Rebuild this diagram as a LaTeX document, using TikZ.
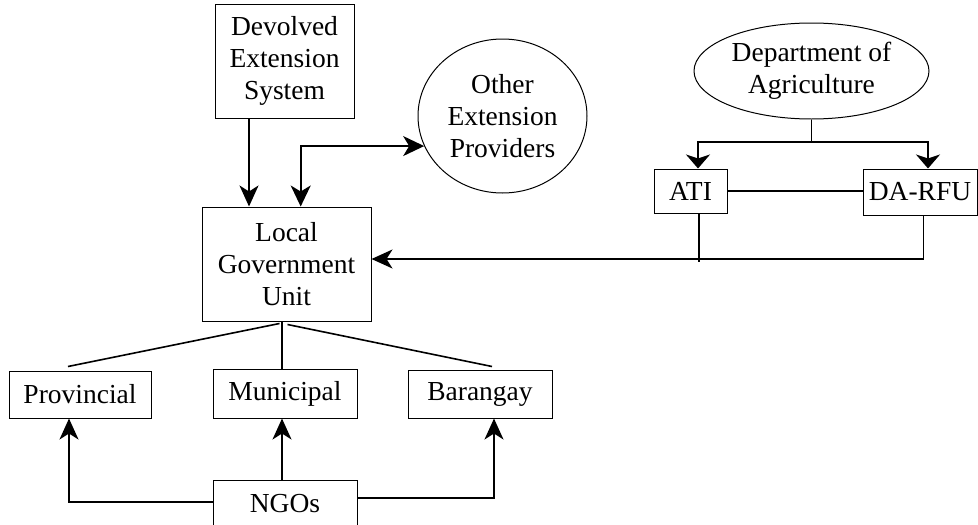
\documentclass[tikz,border=0pt]{standalone}
\usepackage{fontspec}
\setmainfont{Liberation Serif}
\newfontfamily\diagfont{Liberation Serif}
\usetikzlibrary{arrows.meta,shapes.geometric}
\begin{document}
\begin{tikzpicture}[x=1pt,y=-1pt,
  every node/.style={font=\diagfont\fontsize{27.5pt}{31.7pt}\selectfont, inner sep=0pt, align=center},
  box/.style={draw, line width=1pt, rectangle},
  oval/.style={draw, line width=1pt, ellipse},
  conn/.style={line width=1.6pt},
  arrA/.style={conn, -{Stealth[length=21pt,width=19pt,inset=6pt]}},
  arrAA/.style={conn, {Stealth[length=21pt,width=20pt,inset=6pt]}-{Stealth[length=21pt,width=20pt,inset=6pt]}},
  arrBB/.style={conn, {Stealth[length=14pt,width=24pt,inset=4pt]}-{Stealth[length=14pt,width=24pt,inset=4pt]}}
]
\useasboundingbox (0,0) rectangle (978,525);

\node[box, minimum width=139pt, minimum height=114pt] (dev) at (284.5,61) {Devolved\\Extension\\System};
\node[box, minimum width=169pt, minimum height=114pt] (lgu) at (286.5,264) {Local\\Government\\Unit};
\node[oval, minimum width=169pt, minimum height=154pt] (oth) at (502.5,116) {Other\\Extension\\Providers};
\node[oval, minimum width=235pt, minimum height=96pt] (dept) at (811.5,71) {Department of\\Agriculture};
\node[box, minimum width=73pt, minimum height=44pt] (ati) at (690.5,191) {ATI};
\node[box, minimum width=114pt, minimum height=46pt] (darfu) at (920,192) {DA-RFU};
\node[box, minimum width=142pt, minimum height=47pt] (prov) at (80,394.5) {Provincial};
\node[box, minimum width=144pt, minimum height=49pt] (mun) at (285,393.5) {Municipal};
\node[box, minimum width=144pt, minimum height=48pt] (bar) at (480,394) {Barangay};
\node[box, minimum width=144pt, minimum height=48pt] (ngo) at (285,504) {NGOs};

% top connectors into LGU
\draw[arrA] ([xshift=-35.5pt]dev.south) -- ([xshift=-37.5pt]lgu.north);
\draw[arrAA] (oth.201) -| ([xshift=14.2pt]lgu.north);

% Department of Agriculture
\coordinate (dbar) at (dept.south |- 0,142);
\draw[conn] (dept.south) -- (dbar);
\draw[arrBB] ([xshift=7.5pt]ati.north) |- (dbar) -| ([xshift=8pt]darfu.north);
\draw[conn] (ati.east) -- (ati.east -| darfu.west);
\draw[arrA] ([xshift=3.3pt]darfu.south) |- ([yshift=5pt]lgu.east);
\draw[conn] ([xshift=8.5pt]ati.south) -- ++(0,48);

% LGU to levels
\draw[conn] ([xshift=-7pt,yshift=-2pt]lgu.south) -- ([xshift=-12pt,yshift=4pt]prov.north);
\draw[conn] ([xshift=-4.5pt]lgu.south) -- ([xshift=-3pt]mun.north);
\draw[conn] ([xshift=1pt,yshift=-3pt]lgu.south) -- ([xshift=12pt,yshift=3pt]bar.north);

% NGOs
\draw[arrA] ([yshift=2pt]ngo.west) -| ([xshift=-11pt]prov.south);
\draw[arrA] ([xshift=-3pt]ngo.north) -- ([xshift=-3pt]mun.south);
\draw[arrA] ([yshift=6pt]ngo.east) -| ([xshift=14pt]bar.south);
\end{tikzpicture}
\end{document}
